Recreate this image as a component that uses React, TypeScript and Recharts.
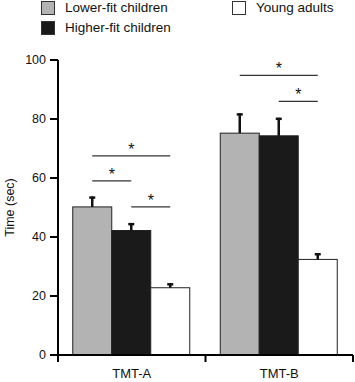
import { BarChart, Bar, XAxis, YAxis, Label } from "recharts";

const categories = ["TMT-A", "TMT-B"];
const lowerFit = [50.2, 75.2];
const higherFit = [42.2, 74.3];
const youngAdults = [22.8, 32.4];
const lowerFitErr = [3.5, 6.7];
const higherFitErr = [2.5, 6.1];
const youngAdultsErr = [1.5, 2.1];
const yTicks = [0, 20, 40, 60, 80, 100];

// significance brackets (category, from series, to series, height in sec)
const bracketCat = [0, 0, 0, 1, 1];
const bracketFrom = [0, 0, 1, 0, 1];
const bracketTo = [2, 1, 2, 2, 2];
const bracketLevel = [67.5, 59, 50.2, 94.8, 86];

const data = categories.map((name, i) => ({
  name,
  lower: lowerFit[i],
  higher: higherFit[i],
  young: youngAdults[i],
  lowerErr: lowerFitErr[i],
  higherErr: higherFitErr[i],
  youngErr: youngAdultsErr[i],
}));

const font = '"Liberation Sans", Arial, Helvetica, sans-serif';

// bar with an upward-only error bar; the last series also draws the brackets
function makeShape(key: string, fill: string, withBrackets: boolean) {
  return (props: any) => {
    const { x, y, width, height, payload } = props;
    const base = y + height;
    const perUnit = height / payload[key];
    const cx = x + width / 2;
    const errY = y - payload[key + "Err"] * perUnit;
    const cat = categories.indexOf(payload.name);
    const center = (k: number) => cx - (2 - k) * width;
    return (
      <g>
        <rect x={x} y={y} width={width} height={height} fill={fill} stroke="#222" strokeWidth={1} />
        <line x1={cx} x2={cx} y1={y} y2={errY} stroke="#111" strokeWidth={2.5} />
        <line x1={cx - 3} x2={cx + 3} y1={errY + 1} y2={errY + 1} stroke="#111" strokeWidth={2.5} />
        {withBrackets &&
          bracketCat.map((c, i) => {
            if (c !== cat) return null;
            const py = base - bracketLevel[i] * perUnit;
            const x1 = center(bracketFrom[i]);
            const x2 = center(bracketTo[i]);
            return (
              <g key={i}>
                <line x1={x1} x2={x2} y1={py} y2={py} stroke="#333" strokeWidth={1.3} />
                <text x={(x1 + x2) / 2} y={py - 1} textAnchor="middle" fontSize={16} fontFamily={font} fill="#111">
                  *
                </text>
              </g>
            );
          })}
      </g>
    );
  };
}

const LowerBar = makeShape("lower", "#b3b3b3", false);
const HigherBar = makeShape("higher", "#1a1a1a", false);
const YoungBar = makeShape("young", "#ffffff", true);

// category label in the middle, tick marks at the band edges
function CatTick(props: any) {
  const { x, y, payload } = props;
  const half = payload.offset || 0;
  const axisY = y - 14;
  return (
    <g>
      <line x1={x - half} x2={x - half} y1={axisY} y2={axisY + 7} stroke="#000" strokeWidth={2} />
      {payload.index === categories.length - 1 && (
        <line x1={x + half} x2={x + half} y1={axisY} y2={axisY + 7} stroke="#000" strokeWidth={2} />
      )}
      <text x={x} y={y} dy="0.71em" textAnchor="middle" fontSize={13} fontFamily={font} fill="#111">
        {payload.value}
      </text>
    </g>
  );
}

const legendItems = [
  { label: "Lower-fit children", color: "#b3b3b3", left: 41, top: 0 },
  { label: "Higher-fit children", color: "#1a1a1a", left: 41, top: 20 },
  { label: "Young adults", color: "#ffffff", left: 232, top: 0 },
];

export default function App() {
  return (
    <div style={{ position: "absolute", left: 0, top: 0, width: 355, height: 382, fontFamily: font, background: "#fff" }}>
      {legendItems.map((it) => (
        <div key={it.label}>
          <div
            style={{
              position: "absolute",
              left: it.left,
              top: it.top + 1,
              width: 14,
              height: 14,
              boxSizing: "border-box",
              border: "1.5px solid #333",
              background: it.color,
            }}
          />
          <div
            style={{
              position: "absolute",
              left: it.left + 24,
              top: it.top,
              fontSize: 13.5,
              lineHeight: "16px",
              color: "#111",
              whiteSpace: "nowrap",
            }}
          >
            {it.label}
          </div>
        </div>
      ))}
      <BarChart
        width={355}
        height={382}
        data={data}
        margin={{ top: 60, right: 2, left: 0, bottom: 0 }}
        barGap={0}
        barCategoryGap="10%"
      >
        <XAxis
          dataKey="name"
          height={27}
          tickLine={false}
          tickSize={6}
          tickMargin={8}
          axisLine={{ stroke: "#000", strokeWidth: 2 }}
          tick={CatTick}
        />
        <YAxis
          width={58}
          domain={[0, 100]}
          ticks={yTicks}
          tickSize={8}
          tickMargin={4}
          axisLine={{ stroke: "#000", strokeWidth: 2 }}
          tickLine={{ stroke: "#000", strokeWidth: 2 }}
          tick={{ fontSize: 12.5, fill: "#111", fontFamily: font }}
        >
          <Label
            content={(p: any) => {
              const vb = p.viewBox || { y: 60, height: 295 };
              const cy = vb.y + vb.height / 2;
              return (
                <text
                  x={10}
                  y={cy}
                  transform={`rotate(-90 10 ${cy})`}
                  textAnchor="middle"
                  dominantBaseline="central"
                  fontSize={12.5}
                  fontFamily={font}
                  fill="#111"
                >
                  Time (sec)
                </text>
              );
            }}
          />
        </YAxis>
        <Bar dataKey="lower" shape={LowerBar} isAnimationActive={false} />
        <Bar dataKey="higher" shape={HigherBar} isAnimationActive={false} />
        <Bar dataKey="young" shape={YoungBar} isAnimationActive={false} />
      </BarChart>
    </div>
  );
}
